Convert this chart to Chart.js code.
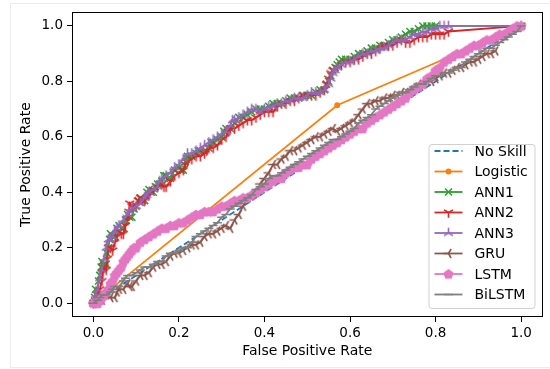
<!DOCTYPE html>
<html>
<head>
<meta charset="utf-8">
<script src="https://cdn.jsdelivr.net/npm/chart.js@4.4.1/dist/chart.umd.min.js"></script>
<style>
  html, body { margin: 0; padding: 0; background: #fff; }
  #roc { display: block; }
</style>
</head>
<body>
<canvas id="roc" width="550" height="369"></canvas>
<script>
// ROC curves: [false positive rate, true positive rate]
const noSkill = [[0, 0], [1, 1]];

const logistic = [[0, 0], [0.57, 0.714], [1, 1]];

const ann1 = [
    [0, 0], [0.003, 0.02], [0.005, 0.05], [0.01, 0.04], [0.012, 0.08], [0.015, 0.1], [0.018, 0.13],
    [0.02, 0.15], [0.025, 0.14], [0.03, 0.14], [0.032, 0.18], [0.035, 0.2], [0.038, 0.23], [0.04, 0.25],
    [0.045, 0.24], [0.05, 0.24], [0.055, 0.27], [0.06, 0.28], [0.065, 0.27], [0.07, 0.27], [0.075, 0.3],
    [0.08, 0.32], [0.085, 0.31], [0.09, 0.31], [0.095, 0.34], [0.1, 0.35], [0.105, 0.37], [0.11, 0.38],
    [0.115, 0.37], [0.12, 0.37], [0.125, 0.4], [0.13, 0.41], [0.135, 0.4], [0.14, 0.4], [0.145, 0.42],
    [0.15, 0.43], [0.155, 0.43], [0.16, 0.44], [0.165, 0.46], [0.17, 0.46], [0.175, 0.45], [0.18, 0.45],
    [0.19, 0.48], [0.2, 0.49], [0.205, 0.48], [0.21, 0.48], [0.215, 0.51], [0.22, 0.53], [0.23, 0.53],
    [0.24, 0.54], [0.245, 0.55], [0.25, 0.55], [0.26, 0.55], [0.27, 0.56], [0.275, 0.58], [0.28, 0.58],
    [0.29, 0.59], [0.3, 0.6], [0.305, 0.62], [0.31, 0.63], [0.32, 0.63], [0.33, 0.65], [0.335, 0.66],
    [0.34, 0.67], [0.35, 0.67], [0.36, 0.68], [0.37, 0.69], [0.38, 0.7], [0.39, 0.7], [0.4, 0.7],
    [0.41, 0.71], [0.42, 0.72], [0.43, 0.72], [0.44, 0.72], [0.45, 0.73], [0.46, 0.74], [0.47, 0.74],
    [0.48, 0.74], [0.49, 0.75], [0.5, 0.75], [0.51, 0.75], [0.52, 0.76], [0.53, 0.77], [0.54, 0.77],
    [0.545, 0.79], [0.55, 0.8], [0.555, 0.82], [0.56, 0.84], [0.565, 0.85], [0.57, 0.86], [0.575, 0.87],
    [0.58, 0.88], [0.59, 0.88], [0.6, 0.88], [0.61, 0.89], [0.62, 0.9], [0.63, 0.9], [0.64, 0.91],
    [0.65, 0.92], [0.66, 0.92], [0.67, 0.93], [0.68, 0.93], [0.69, 0.94], [0.7, 0.95], [0.71, 0.95],
    [0.72, 0.96], [0.73, 0.97], [0.74, 0.98], [0.75, 0.98], [0.76, 0.99], [0.77, 1.0], [0.78, 1.0],
    [0.79, 1.0], [0.8, 1.0], [1, 1]
];

const ann2 = [
    [0, 0], [0.005, 0.01], [0.01, 0.03], [0.015, 0.05], [0.02, 0.08], [0.022, 0.11], [0.025, 0.13],
    [0.03, 0.12], [0.033, 0.16], [0.035, 0.2], [0.04, 0.2], [0.045, 0.19], [0.05, 0.22], [0.055, 0.24],
    [0.06, 0.26], [0.065, 0.25], [0.07, 0.25], [0.075, 0.28], [0.08, 0.3], [0.083, 0.33], [0.085, 0.36],
    [0.09, 0.35], [0.1, 0.35], [0.105, 0.37], [0.11, 0.38], [0.115, 0.37], [0.12, 0.37], [0.13, 0.39],
    [0.14, 0.41], [0.15, 0.42], [0.16, 0.43], [0.165, 0.42], [0.17, 0.42], [0.18, 0.44], [0.19, 0.46],
    [0.2, 0.47], [0.21, 0.48], [0.215, 0.5], [0.22, 0.51], [0.23, 0.52], [0.24, 0.53], [0.25, 0.53],
    [0.26, 0.54], [0.265, 0.55], [0.27, 0.56], [0.28, 0.56], [0.29, 0.57], [0.3, 0.59], [0.31, 0.6],
    [0.315, 0.62], [0.32, 0.63], [0.33, 0.63], [0.34, 0.64], [0.35, 0.65], [0.36, 0.66], [0.37, 0.66],
    [0.38, 0.67], [0.39, 0.68], [0.4, 0.69], [0.41, 0.69], [0.42, 0.69], [0.43, 0.71], [0.44, 0.72],
    [0.45, 0.72], [0.46, 0.73], [0.47, 0.73], [0.48, 0.74], [0.49, 0.75], [0.5, 0.75], [0.51, 0.75],
    [0.52, 0.75], [0.53, 0.76], [0.54, 0.77], [0.545, 0.79], [0.55, 0.81], [0.555, 0.83], [0.56, 0.84],
    [0.57, 0.85], [0.58, 0.86], [0.59, 0.87], [0.6, 0.87], [0.61, 0.88], [0.62, 0.88], [0.63, 0.89],
    [0.64, 0.9], [0.65, 0.9], [0.66, 0.91], [0.67, 0.92], [0.68, 0.93], [0.69, 0.93], [0.7, 0.93],
    [0.71, 0.94], [0.72, 0.95], [0.73, 0.94], [0.74, 0.94], [0.75, 0.95], [0.76, 0.96], [0.77, 0.96],
    [0.78, 0.96], [0.79, 0.97], [0.8, 0.97], [0.81, 0.97], [0.82, 0.97], [0.83, 0.98], [1, 1]
];

const ann3 = [
    [0, 0], [0.005, 0.03], [0.01, 0.05], [0.015, 0.09], [0.02, 0.12], [0.025, 0.16], [0.03, 0.2],
    [0.035, 0.23], [0.04, 0.23], [0.045, 0.24], [0.05, 0.26], [0.055, 0.27], [0.06, 0.28], [0.07, 0.3],
    [0.08, 0.32], [0.085, 0.33], [0.09, 0.34], [0.1, 0.35], [0.11, 0.36], [0.12, 0.38], [0.125, 0.39],
    [0.13, 0.4], [0.14, 0.41], [0.15, 0.42], [0.155, 0.44], [0.16, 0.45], [0.17, 0.46], [0.18, 0.47],
    [0.19, 0.49], [0.2, 0.5], [0.21, 0.52], [0.22, 0.54], [0.23, 0.54], [0.24, 0.55], [0.25, 0.56],
    [0.26, 0.57], [0.27, 0.58], [0.28, 0.59], [0.29, 0.6], [0.3, 0.61], [0.31, 0.62], [0.32, 0.64],
    [0.325, 0.66], [0.33, 0.66], [0.34, 0.67], [0.35, 0.68], [0.36, 0.69], [0.37, 0.7], [0.38, 0.7],
    [0.39, 0.69], [0.4, 0.7], [0.41, 0.71], [0.42, 0.71], [0.43, 0.72], [0.44, 0.72], [0.45, 0.73],
    [0.46, 0.73], [0.47, 0.74], [0.48, 0.74], [0.49, 0.74], [0.5, 0.75], [0.51, 0.76], [0.52, 0.76],
    [0.53, 0.76], [0.54, 0.77], [0.55, 0.79], [0.555, 0.81], [0.56, 0.83], [0.565, 0.84], [0.57, 0.85],
    [0.58, 0.86], [0.59, 0.87], [0.6, 0.87], [0.61, 0.88], [0.62, 0.89], [0.63, 0.9], [0.64, 0.9],
    [0.65, 0.91], [0.66, 0.91], [0.67, 0.92], [0.68, 0.92], [0.69, 0.93], [0.7, 0.94], [0.71, 0.95],
    [0.72, 0.95], [0.73, 0.95], [0.74, 0.96], [0.75, 0.97], [0.76, 0.97], [0.77, 0.98], [0.78, 0.98],
    [0.79, 0.99], [0.8, 0.99], [0.81, 1.0], [0.82, 1.0], [0.83, 1.0], [1, 1]
];

const gru = [
    [0, 0], [0.01, 0.0], [0.02, 0.01], [0.025, 0.03], [0.03, 0.03], [0.04, 0.02], [0.05, 0.02],
    [0.055, 0.04], [0.06, 0.05], [0.07, 0.05], [0.08, 0.07], [0.085, 0.06], [0.09, 0.06], [0.1, 0.08],
    [0.11, 0.1], [0.12, 0.1], [0.13, 0.11], [0.14, 0.13], [0.15, 0.14], [0.16, 0.14], [0.17, 0.15],
    [0.18, 0.17], [0.19, 0.18], [0.2, 0.18], [0.21, 0.19], [0.22, 0.2], [0.23, 0.21], [0.24, 0.21],
    [0.25, 0.22], [0.26, 0.24], [0.27, 0.25], [0.28, 0.25], [0.29, 0.26], [0.3, 0.27], [0.31, 0.28],
    [0.32, 0.27], [0.33, 0.3], [0.34, 0.32], [0.35, 0.35], [0.36, 0.38], [0.37, 0.39], [0.38, 0.4],
    [0.39, 0.43], [0.4, 0.45], [0.41, 0.47], [0.42, 0.5], [0.43, 0.5], [0.44, 0.52], [0.45, 0.53],
    [0.46, 0.55], [0.47, 0.55], [0.48, 0.56], [0.49, 0.57], [0.5, 0.58], [0.51, 0.59], [0.52, 0.6],
    [0.53, 0.6], [0.54, 0.61], [0.55, 0.62], [0.56, 0.63], [0.57, 0.62], [0.58, 0.63], [0.59, 0.64],
    [0.6, 0.65], [0.61, 0.66], [0.62, 0.68], [0.63, 0.7], [0.64, 0.72], [0.65, 0.72], [0.66, 0.73],
    [0.67, 0.73], [0.68, 0.74], [0.69, 0.74], [0.7, 0.75], [0.71, 0.75], [0.72, 0.76], [0.73, 0.76],
    [0.74, 0.77], [0.75, 0.78], [0.76, 0.79], [0.77, 0.79], [0.78, 0.8], [0.79, 0.8], [0.8, 0.81],
    [0.81, 0.82], [0.82, 0.83], [0.83, 0.83], [0.84, 0.84], [0.85, 0.85], [0.86, 0.85], [0.87, 0.86],
    [0.88, 0.87], [0.89, 0.87], [0.9, 0.88], [0.91, 0.89], [0.92, 0.9], [0.93, 0.9], [0.94, 0.91]
];

const lstm = [
    [0, 0], [0.005, 0.0], [0.01, 0.0], [0.015, 0.01], [0.02, 0.02], [0.025, 0.03], [0.03, 0.04],
    [0.035, 0.05], [0.04, 0.07], [0.045, 0.08], [0.05, 0.1], [0.055, 0.11], [0.06, 0.12], [0.065, 0.13],
    [0.07, 0.15], [0.075, 0.16], [0.08, 0.17], [0.085, 0.18], [0.09, 0.19], [0.095, 0.2], [0.1, 0.2],
    [0.11, 0.22], [0.12, 0.23], [0.13, 0.24], [0.14, 0.25], [0.15, 0.26], [0.16, 0.27], [0.17, 0.27],
    [0.18, 0.28], [0.19, 0.28], [0.2, 0.29], [0.21, 0.29], [0.22, 0.3], [0.23, 0.31], [0.24, 0.32],
    [0.25, 0.32], [0.26, 0.33], [0.27, 0.33], [0.28, 0.33], [0.29, 0.34], [0.3, 0.35], [0.31, 0.35],
    [0.32, 0.36], [0.33, 0.37], [0.34, 0.37], [0.35, 0.38], [0.36, 0.38], [0.37, 0.39], [0.38, 0.4],
    [0.39, 0.41], [0.4, 0.42], [0.41, 0.43], [0.42, 0.44], [0.43, 0.45], [0.44, 0.45], [0.45, 0.47],
    [0.46, 0.48], [0.47, 0.49], [0.48, 0.49], [0.49, 0.5], [0.5, 0.5], [0.51, 0.52], [0.52, 0.53],
    [0.53, 0.54], [0.54, 0.55], [0.55, 0.56], [0.56, 0.57], [0.57, 0.58], [0.58, 0.59], [0.59, 0.6],
    [0.6, 0.61], [0.61, 0.62], [0.62, 0.63], [0.63, 0.63], [0.64, 0.65], [0.65, 0.66], [0.66, 0.67],
    [0.67, 0.68], [0.68, 0.69], [0.69, 0.7], [0.7, 0.71], [0.71, 0.72], [0.72, 0.73], [0.73, 0.74],
    [0.74, 0.76], [0.75, 0.77], [0.76, 0.78], [0.77, 0.79], [0.78, 0.81], [0.79, 0.82], [0.8, 0.84],
    [0.81, 0.85], [0.82, 0.87], [0.83, 0.88], [0.84, 0.89], [0.85, 0.9], [0.86, 0.9], [0.87, 0.91],
    [0.88, 0.92], [0.89, 0.93], [0.9, 0.93], [0.91, 0.94], [0.92, 0.95], [0.93, 0.95], [0.94, 0.96],
    [0.95, 0.97], [0.96, 0.97], [0.97, 0.98], [0.98, 0.99], [0.99, 1.0], [1, 1]
];

const bilstm = [
    [0, 0], [0.01, 0.01], [0.015, 0.02], [0.02, 0.03], [0.03, 0.03], [0.04, 0.04], [0.045, 0.05],
    [0.05, 0.06], [0.06, 0.06], [0.07, 0.08], [0.075, 0.09], [0.08, 0.1], [0.09, 0.1], [0.1, 0.11],
    [0.11, 0.12], [0.12, 0.13], [0.13, 0.13], [0.14, 0.14], [0.15, 0.15], [0.16, 0.15], [0.17, 0.17],
    [0.18, 0.18], [0.19, 0.18], [0.2, 0.19], [0.21, 0.2], [0.22, 0.2], [0.23, 0.22], [0.24, 0.24],
    [0.25, 0.25], [0.26, 0.26], [0.27, 0.27], [0.28, 0.28], [0.29, 0.29], [0.3, 0.31], [0.31, 0.32],
    [0.32, 0.34], [0.33, 0.35], [0.34, 0.36], [0.35, 0.37], [0.36, 0.38], [0.37, 0.39], [0.38, 0.41],
    [0.39, 0.42], [0.4, 0.43], [0.41, 0.45], [0.42, 0.46], [0.43, 0.46], [0.44, 0.47], [0.45, 0.48],
    [0.46, 0.49], [0.47, 0.5], [0.48, 0.51], [0.49, 0.52], [0.5, 0.53], [0.51, 0.54], [0.52, 0.55],
    [0.53, 0.56], [0.54, 0.57], [0.55, 0.58], [0.56, 0.59], [0.57, 0.59], [0.58, 0.6], [0.59, 0.61],
    [0.6, 0.62], [0.61, 0.63], [0.62, 0.65], [0.63, 0.66], [0.64, 0.67], [0.65, 0.68], [0.66, 0.7],
    [0.67, 0.71], [0.68, 0.72], [0.69, 0.73], [0.7, 0.74], [0.71, 0.75], [0.72, 0.76], [0.73, 0.76],
    [0.74, 0.77], [0.75, 0.78], [0.76, 0.79], [0.77, 0.79], [0.78, 0.8], [0.79, 0.81], [0.8, 0.82],
    [0.81, 0.82], [0.82, 0.83], [0.83, 0.83], [0.84, 0.84], [0.85, 0.85], [0.86, 0.85], [0.87, 0.87],
    [0.88, 0.88], [0.89, 0.89], [0.9, 0.9], [0.91, 0.91], [0.92, 0.92], [0.93, 0.92], [0.94, 0.93],
    [0.95, 0.94], [0.96, 0.95], [0.97, 0.96], [0.98, 0.97], [0.99, 0.98], [1, 1]
];

const seriesLabels = ['No Skill', 'Logistic', 'ANN1', 'ANN2', 'ANN3', 'GRU', 'LSTM', 'BiLSTM'];
const xTicks = [0, 0.2, 0.4, 0.6, 0.8, 1.0];
const yTicks = [0, 0.2, 0.4, 0.6, 0.8, 1.0];

const FONT = 'DejaVu Sans';
const TICK_SIZE = 13.5;
const TEXT_SIZE = 14;

/**
 * Small offscreen canvas holding a matplotlib style "tri" marker
 * (three spokes from the centre). Angles are in degrees, canvas y down.
 */
function triMarker(color, angles) {
    const c = document.createElement('canvas');
    c.width = 13;
    c.height = 13;
    const g = c.getContext('2d');
    g.strokeStyle = color;
    g.lineWidth = 1.6;
    g.beginPath();
    for (const a of angles) {
        const r = a * Math.PI / 180;
        g.moveTo(6.5, 6.5);
        g.lineTo(6.5 + Math.cos(r) * 5.2, 6.5 + Math.sin(r) * 5.2);
    }
    g.stroke();
    return c;
}

/**
 * Filled pentagon marker ('p' in matplotlib).
 */
function pentagonMarker(color) {
    const c = document.createElement('canvas');
    c.width = 13;
    c.height = 13;
    const g = c.getContext('2d');
    g.fillStyle = color;
    g.beginPath();
    for (let i = 0; i < 5; i++) {
        const r = (-90 + i * 72) * Math.PI / 180;
        const px = 6.5 + Math.cos(r) * 5.4;
        const py = 6.9 + Math.sin(r) * 5.4;
        if (i === 0) g.moveTo(px, py); else g.lineTo(px, py);
    }
    g.closePath();
    g.fill();
    return c;
}

const colors = ['#1f77b4', '#ff7f0e', '#2ca02c', '#d62728', '#9467bd', '#8c564b', '#e377c2', '#7f7f7f'];

// per series marker settings
const markers = [
    { style: 'circle', radius: 0 },
    { style: 'circle', radius: 2.2 },
    { style: 'crossRot', radius: 5 },
    { style: triMarker(colors[3], [90, 210, 330]), radius: 6 },
    { style: triMarker(colors[4], [270, 30, 150]), radius: 6 },
    { style: triMarker(colors[5], [180, 300, 60]), radius: 6 },
    { style: pentagonMarker(colors[6]), radius: 6 },
    { style: 'line', radius: 4.5 }
];

const seriesData = [noSkill, logistic, ann1, ann2, ann3, gru, lstm, bilstm];

const datasets = seriesData.map((pts, i) => ({
    label: seriesLabels[i],
    data: pts.map(p => ({ x: p[0], y: p[1] })),
    borderColor: colors[i],
    backgroundColor: colors[i],
    pointBackgroundColor: colors[i],
    pointBorderColor: colors[i],
    borderWidth: 1.8,
    borderDash: i === 0 ? [6, 3] : [],
    pointStyle: markers[i].style,
    pointRadius: markers[i].radius,
    pointBorderWidth: 1.5,
    pointHoverRadius: markers[i].radius,
    tension: 0,
    fill: false,
    // later series are painted on top, like matplotlib
    order: seriesData.length - i
}));

// faint frame round the whole picture, as in the screenshot
const pageFramePlugin = {
    id: 'pageFrame',
    beforeDraw(chart) {
        const ctx = chart.ctx;
        ctx.save();
        ctx.strokeStyle = '#ebebeb';
        ctx.lineWidth = 1;
        ctx.beginPath();
        ctx.moveTo(chart.width, 3.5);
        ctx.lineTo(10.5, 3.5);
        ctx.lineTo(10.5, chart.height - 1.5);
        ctx.lineTo(chart.width, chart.height - 1.5);
        ctx.stroke();
        ctx.restore();
    }
};

// black box round the plotting area
const framePlugin = {
    id: 'frame',
    afterDraw(chart) {
        const { ctx, chartArea: a } = chart;
        ctx.save();
        ctx.strokeStyle = '#000';
        ctx.lineWidth = 1;
        ctx.strokeRect(Math.round(a.left) + 0.5, Math.round(a.top) + 0.5,
            Math.round(a.right - a.left) - 1, Math.round(a.bottom - a.top) - 1);
        ctx.restore();
    }
};

// legend box in the lower right corner, drawn with the datasets' own styles
const boxLegendPlugin = {
    id: 'boxLegend',
    afterDatasetsDraw(chart) {
        const { ctx, chartArea: a } = chart;
        const rowH = 20.5;
        const boxW = 106;
        const boxH = 164;
        const x0 = a.right - 8 - boxW;
        const y0 = a.bottom - 9 - boxH;

        ctx.save();
        ctx.beginPath();
        ctx.roundRect(x0 + 0.5, y0 + 0.5, boxW, boxH, 3);
        ctx.fillStyle = 'rgba(255,255,255,0.85)';
        ctx.fill();
        ctx.strokeStyle = '#d0d0d0';
        ctx.lineWidth = 1;
        ctx.stroke();

        ctx.font = TEXT_SIZE + 'px "' + FONT + '"';
        ctx.textBaseline = 'middle';
        ctx.textAlign = 'left';

        chart.data.datasets.forEach((ds, i) => {
            const y = y0 + 7 + i * rowH;
            const lx = x0 + 6;
            ctx.strokeStyle = ds.borderColor;
            ctx.lineWidth = ds.borderWidth;
            ctx.setLineDash(ds.borderDash);
            ctx.beginPath();
            ctx.moveTo(lx, y);
            ctx.lineTo(lx + 28, y);
            ctx.stroke();
            ctx.setLineDash([]);
            if (ds.pointRadius > 0) {
                ctx.fillStyle = ds.pointBackgroundColor;
                ctx.strokeStyle = ds.pointBorderColor;
                ctx.lineWidth = ds.pointBorderWidth;
                Chart.helpers.drawPoint(ctx, {
                    pointStyle: ds.pointStyle,
                    radius: ds.pointRadius,
                    rotation: 0,
                    borderWidth: ds.pointBorderWidth
                }, lx + 14, y);
            }
            ctx.fillStyle = '#000';
            ctx.fillText(ds.label, x0 + 46, y + 1);
        });
        ctx.restore();
    }
};

function axisOptions(ticks, title, isX) {
    return {
        type: 'linear',
        min: -0.05,
        max: 1.05,
        afterBuildTicks: scale => {
            scale.ticks = ticks.map(v => ({ value: v }));
        },
        afterFit: scale => {
            if (isX) scale.height = 52; else scale.width = 72;
        },
        border: { display: false },
        grid: {
            drawOnChartArea: false,
            drawTicks: true,
            tickLength: 5,
            color: '#000',
            tickColor: '#000',
            lineWidth: 1
        },
        ticks: {
            color: '#000',
            padding: isX ? 3 : 4,
            font: { family: FONT, size: TICK_SIZE },
            maxRotation: 0,
            autoSkip: false,
            callback: v => v.toFixed(1)
        },
        title: {
            display: true,
            text: title,
            color: '#000',
            font: { family: FONT, size: TEXT_SIZE },
            padding: isX ? { top: 0, bottom: 9 } : { top: 18, bottom: 0 }
        }
    };
}

Chart.defaults.font.family = FONT;

new Chart(document.getElementById('roc'), {
    type: 'line',
    data: { datasets },
    options: {
        responsive: false,
        animation: false,
        devicePixelRatio: 1,
        layout: { padding: { top: 11, right: 7, left: 0, bottom: 0 } },
        plugins: {
            legend: { display: false },
            tooltip: { enabled: false }
        },
        scales: {
            x: axisOptions(xTicks, 'False Positive Rate', true),
            y: axisOptions(yTicks, 'True Positive Rate', false)
        }
    },
    plugins: [pageFramePlugin, boxLegendPlugin, framePlugin]
});
</script>
</body>
</html>
